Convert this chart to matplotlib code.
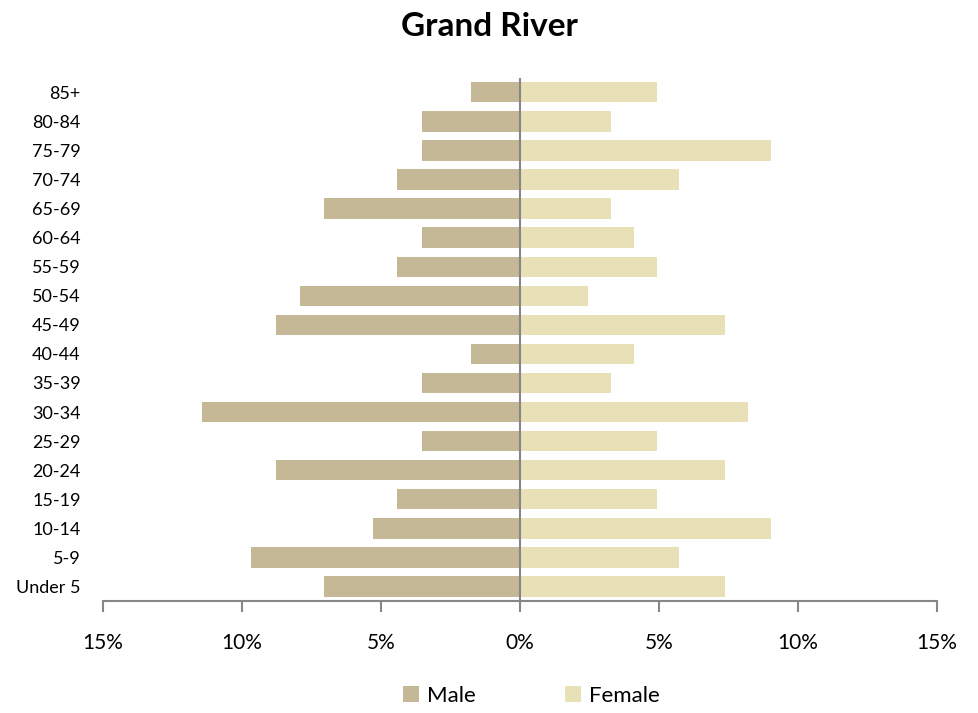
import matplotlib.pyplot as plt
from matplotlib.ticker import FuncFormatter

plt.rcParams['font.family'] = ['Lato', 'DejaVu Sans']

# age groups, bottom to top
ages = ['Under 5', '5-9', '10-14', '15-19', '20-24', '25-29', '30-34', '35-39',
        '40-44', '45-49', '50-54', '55-59', '60-64', '65-69', '70-74', '75-79',
        '80-84', '85+']
male = [7.05, 9.68, 5.29, 4.41, 8.78, 3.53, 11.44, 3.53,
        1.76, 8.78, 7.91, 4.41, 3.53, 7.05, 4.41, 3.53, 3.53, 1.76]
female = [7.38, 5.74, 9.02, 4.92, 7.38, 4.92, 8.20, 3.28,
          4.10, 7.38, 2.46, 4.92, 4.10, 3.28, 5.74, 9.02, 3.28, 4.92]

male_color = '#C4B896'
female_color = '#E8E1B7'
axis_color = '#868686'

fig = plt.figure(figsize=(9.79, 7.13), dpi=100)
ax = fig.add_axes([0.105, 0.157, 0.852, 0.734])

y = range(len(ages))
ax.barh(y, [-m for m in male], height=0.7, color=male_color, label='Male')
ax.barh(y, female, height=0.7, color=female_color, label='Female')

ax.axvline(0, color=axis_color, linewidth=1.5)
ax.set_xlim(-15, 15)
ax.set_ylim(-0.5, len(ages) - 0.5)
ax.set_xticks([-15, -10, -5, 0, 5, 10, 15])
ax.xaxis.set_major_formatter(FuncFormatter(lambda v, p: f'{abs(v):.0f}%'))
ax.set_yticks(list(y))
ax.set_yticklabels(ages)

for s in ['top', 'right', 'left']:
    ax.spines[s].set_visible(False)
ax.spines['bottom'].set_color(axis_color)
ax.spines['bottom'].set_linewidth(1.5)
ax.tick_params(axis='x', colors=axis_color, length=8, width=1.5, direction='out',
               labelsize=15, labelcolor='black', pad=15)
ax.tick_params(axis='y', length=0, labelsize=13, pad=16)

fig.suptitle('Grand River', fontsize=24, fontweight='bold', y=0.983)

fig.legend(loc='lower center', ncol=2, frameon=False, fontsize=16,
           bbox_to_anchor=(0.543, -0.018), handlelength=0.7, handleheight=0.7,
           columnspacing=4.0, handletextpad=0.4)

fig.savefig('out.png', dpi=100)
